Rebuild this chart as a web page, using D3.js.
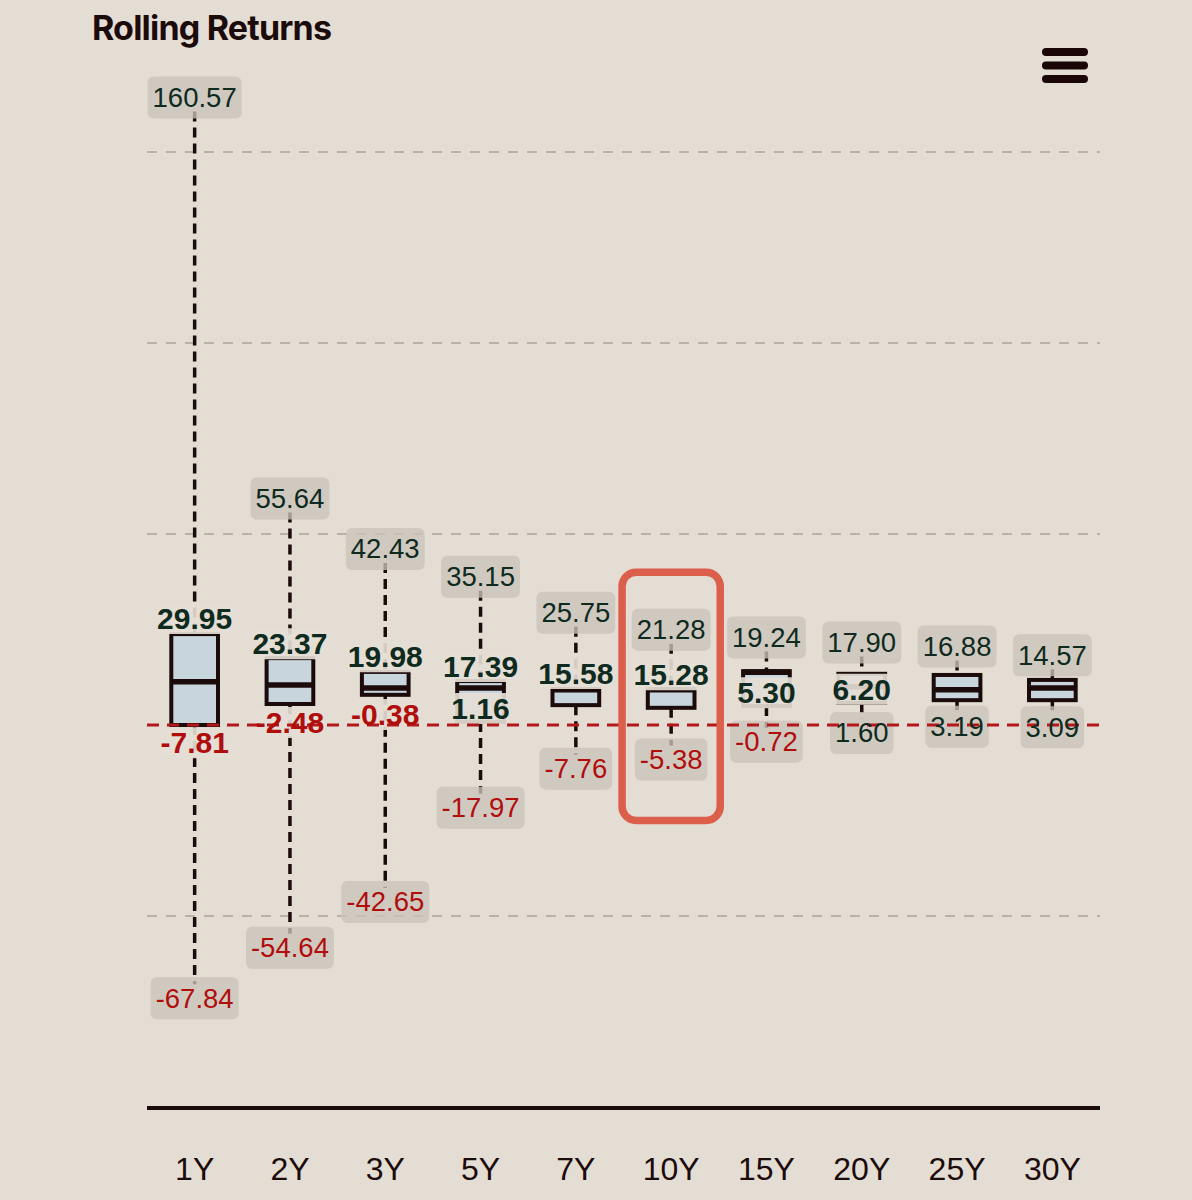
<!DOCTYPE html>
<html>
<head>
<meta charset="utf-8">
<script src="https://cdn.jsdelivr.net/npm/d3@7"></script>
<style>
  html, body { margin: 0; padding: 0; background: #e4ddd4; }
  svg { display: block; }
</style>
</head>
<body>
<div id="chart"></div>
<script>
// ---------- data ----------
const categories = ['1Y','2Y','3Y','5Y','7Y','10Y','15Y','20Y','25Y','30Y'];
const maxValues  = [160.57, 55.64, 42.43, 35.15, 25.75, 21.28, 19.24, 17.90, 16.88, 14.57];
const minValues  = [-67.84, -54.64, -42.65, -17.97, -7.76, -5.38, -0.72, 1.60, 3.19, 3.09];
const q3Values     = [23.8, 17.5, 13.9, 11.5, 9.4, 9.4, 14.1, 13.4, 13.1, 11.8];
const medianValues = [11.3, 10.5, 9.7, 9.7, 9.2, 9.2, 13.8, 10.0, 9.2, 9.7];
const q1Values     = [0.0, 5.5, 7.9, 0.8, 5.2, 4.5, 5.0, 5.8, 6.5, 6.5];
const upperLabels = [29.95, 23.37, 19.98, 17.39, 15.58, 15.28, null, null, null, null];
const lowerLabels = [-7.81, -2.48, -0.38, 1.16, null, null, 5.30, 6.20, null, null];
const gridTicks = [-50, 50, 100, 150];
const highlightCategory = '10Y';
const highlightRange = [-25, 40];
const titleText = 'Rolling Returns';

// ---------- layout ----------
const W = 1192, H = 1200;
const plot = { left: 147, right: 1100, top: 152, bottom: 1107 };
const bg = '#e4ddd4';
const dark = '#1c0b0b';
const posColor = '#0f2a1e';
const negColor = '#b00d0d';

const svg = d3.select('#chart').append('svg').attr('width', W).attr('height', H)
  .style('background', bg);

const x = d3.scaleBand().domain(categories).range([plot.left, plot.right]).padding(0);
const y = d3.scaleLinear().domain([-100, 150]).range([plot.bottom, plot.top]);
const cx = c => x(c) + x.bandwidth() / 2;
const boxW = x.bandwidth() * 0.49;

const rows = categories.map((c, i) => ({
  c, max: maxValues[i], min: minValues[i], q1: q1Values[i], q3: q3Values[i],
  med: medianValues[i], up: upperLabels[i], lo: lowerLabels[i]
}));

// title
svg.append('text').attr('x', 92).attr('y', 40)
  .attr('font-family', 'Inter, "Liberation Sans", sans-serif').attr('font-weight', 700)
  .attr('font-size', 34).attr('letter-spacing', -0.8).attr('fill', dark).text(titleText);

// hamburger menu
[52, 65.5, 79].forEach(cy => {
  svg.append('rect').attr('x', 1042).attr('y', cy - 4).attr('width', 46).attr('height', 8)
    .attr('rx', 4).attr('fill', '#1a0606');
});

// grid
svg.append('g').selectAll('line').data(gridTicks).join('line')
  .attr('x1', plot.left).attr('x2', plot.right)
  .attr('y1', d => y(d)).attr('y2', d => y(d))
  .attr('stroke', '#bab1a8').attr('stroke-width', 2).attr('stroke-dasharray', '10,9');

// x axis line + labels
svg.append('line').attr('x1', plot.left).attr('x2', plot.right)
  .attr('y1', plot.bottom + 1).attr('y2', plot.bottom + 1)
  .attr('stroke', dark).attr('stroke-width', 4);
const xAxis = d3.axisBottom(x).tickSize(0).tickPadding(0);
const gx = svg.append('g').attr('transform', `translate(0,${plot.bottom})`).call(xAxis);
gx.select('.domain').remove();
gx.selectAll('text').attr('y', 73).attr('dy', 0)
  .attr('font-family', '"Liberation Sans", Arial, sans-serif').attr('font-size', 32)
  .attr('fill', dark);

// whiskers
const wg = svg.append('g');
rows.forEach(r => {
  wg.append('line').attr('x1', cx(r.c)).attr('x2', cx(r.c))
    .attr('y1', y(r.max)).attr('y2', y(r.q3))
    .attr('stroke', dark).attr('stroke-width', 3.5).attr('stroke-dasharray', '10,6');
  wg.append('line').attr('x1', cx(r.c)).attr('x2', cx(r.c))
    .attr('y1', y(r.q1)).attr('y2', y(r.min))
    .attr('stroke', dark).attr('stroke-width', 3.5).attr('stroke-dasharray', '10,6');
});

// boxes
const bgG = svg.append('g');
rows.forEach(r => {
  bgG.append('rect').attr('x', cx(r.c) - boxW / 2).attr('y', y(r.q3))
    .attr('width', boxW).attr('height', y(r.q1) - y(r.q3))
    .attr('fill', '#c9d5dc').attr('stroke', dark).attr('stroke-width', 4);
  bgG.append('line').attr('x1', cx(r.c) - boxW / 2).attr('x2', cx(r.c) + boxW / 2)
    .attr('y1', y(r.med)).attr('y2', y(r.med))
    .attr('stroke', dark).attr('stroke-width', 5.5);
});

// labels: backgrounds first, then zero line, then texts
const labelBg = svg.append('g');
const zeroG = svg.append('g');
const labelTx = svg.append('g');

function addLabel(v, cyPos, xc, bold, fillBg) {
  const t = labelTx.append('text').attr('x', xc).attr('y', cyPos)
    .attr('text-anchor', 'middle').attr('dominant-baseline', 'central')
    .attr('font-family', '"Liberation Sans", Arial, sans-serif')
    .attr('font-size', bold ? 30 : 27.5).attr('font-weight', bold ? 700 : 400)
    .attr('fill', v < 0 ? negColor : posColor)
    .text(v.toFixed(2));
  const w = t.node().getComputedTextLength();
  const padX = bold ? 1 : 5, h = bold ? 31 : 42;
  labelBg.append('rect').attr('x', xc - w / 2 - padX).attr('y', cyPos - h / 2)
    .attr('width', w + 2 * padX).attr('height', h).attr('rx', 6)
    .attr('fill', fillBg);
}

rows.forEach(r => {
  const xc = cx(r.c);
  addLabel(r.max, y(r.max) - 14, xc, false, 'rgba(203,195,186,0.78)');
  addLabel(r.min, y(r.min) + 14, xc, false, 'rgba(203,195,186,0.78)');
  if (r.up != null) addLabel(r.up, y(r.up) + 8, xc, true, 'rgba(228,221,212,0.92)');
  if (r.lo != null) addLabel(r.lo, y(r.lo) - 12, xc, true, 'rgba(228,221,212,0.92)');
});

// zero plot line
zeroG.append('line').attr('x1', plot.left).attr('x2', plot.right)
  .attr('y1', y(0)).attr('y2', y(0))
  .attr('stroke', '#b3191a').attr('stroke-width', 3).attr('stroke-dasharray', '12,8');

// highlight around 10Y
const hx = cx(highlightCategory);
svg.append('rect')
  .attr('x', hx - x.bandwidth() * 0.515).attr('y', y(highlightRange[1]))
  .attr('width', x.bandwidth() * 1.03).attr('height', y(highlightRange[0]) - y(highlightRange[1]))
  .attr('rx', 14).attr('fill', 'none').attr('stroke', '#dc5f4b').attr('stroke-width', 7.5);
</script>
</body>
</html>
